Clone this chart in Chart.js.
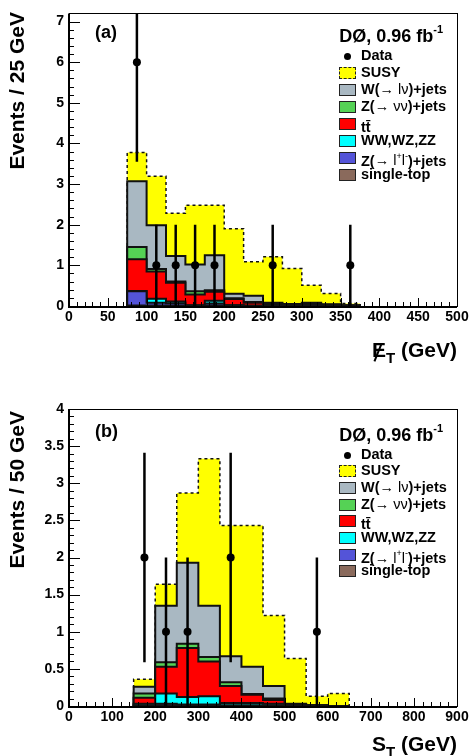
<!DOCTYPE html>
<html>
<head>
<meta charset="utf-8">
<script src="https://cdn.jsdelivr.net/npm/chart.js@4.4.0/dist/chart.umd.min.js"></script>
<style>
  body { margin: 0; background: #fff; }
  #page { position: relative; width: 472px; height: 756px; overflow: hidden;
          font-family: "Liberation Sans", Arial, sans-serif; font-weight: bold; color: #000; }
  .panel { position: absolute; left: 0; width: 472px; height: 378px; }
  .panel canvas { position: absolute; left: 0; top: 0; }
  .txt { position: absolute; white-space: nowrap; }
  .ytitle { font-size: 21px; line-height: 24px; width: 200px; text-align: right; transform-origin: 0 0; left: 0; top: 0; }
  .xtitle { font-size: 21px; line-height: 24px; right: 15px; }
  .tag { font-size: 18px; line-height: 20px; left: 95px; }
  .lumi { font-size: 18px; line-height: 20px; right: 29px; }
  .lumi sup { font-size: 11px; position: relative; top: -2px; }
  .sym { font-weight: normal; }
  .met { position: relative; display: inline-block; }
  .met .sl { position: absolute; left: 5px; top: 5px; width: 2px; height: 19px; background: #000; transform: rotate(22deg); }
  .sub { font-size: 15px; position: relative; top: 6px; }
  .leg { position: absolute; left: 339px; height: 17px; font-size: 14.5px; line-height: 17px; white-space: nowrap; }
  .leg .sw { position: absolute; left: 0; top: 2px; width: 15px; height: 10px; border: 1.5px solid #222; }
  .leg .dot { position: absolute; left: 5px; top: 5px; width: 7px; height: 7px; border-radius: 50%; background: #000; }
  .leg .lab { position: absolute; left: 22px; top: -1px; }
  .leg sup { font-size: 9px; position: relative; top: -1px; }
</style>
</head>
<body>
<div id="page">
  <div class="panel" id="panelA" style="top:0">
    <canvas id="chartA" width="472" height="378"></canvas>
  </div>
  <div class="panel" id="panelB" style="top:378px">
    <canvas id="chartB" width="472" height="378"></canvas>
  </div>
</div>
<script>
// ---- panel (a): missing ET, 25 GeV bins ----
const binEdgesA = [75, 100, 125, 150, 175, 200, 225, 250, 275, 300, 325, 350, 375];
const singleTopA = [0.01, 0.01, 0.01, 0.00, 0.01, 0.01, 0.00, 0.00, 0.00, 0.00, 0.00, 0.00];
const zllA       = [0.35, 0.07, 0.06, 0.01, 0.05, 0.00, 0.00, 0.00, 0.00, 0.00, 0.00, 0.00];
const dibosonA   = [0.01, 0.10, 0.04, 0.01, 0.07, 0.01, 0.01, 0.01, 0.00, 0.00, 0.00, 0.00];
const ttbarA     = [0.78, 0.67, 0.46, 0.26, 0.22, 0.15, 0.07, 0.04, 0.03, 0.03, 0.02, 0.01];
const znnA       = [0.30, 0.06, 0.03, 0.08, 0.04, 0.02, 0.02, 0.01, 0.01, 0.02, 0.01, 0.00];
const wjetsA     = [1.62, 1.08, 0.63, 0.66, 0.86, 0.11, 0.15, 0.02, 0.01, 0.03, 0.01, 0.01];
const susyA      = [0.71, 1.20, 1.05, 1.46, 1.23, 1.60, 0.84, 1.13, 0.87, 0.43, 0.27, 0.04];
const dataXA   = [87.5, 112.5, 137.5, 162.5, 187.5, 262.5, 362.5];
const dataYA   = [6, 1, 1, 1, 1, 1, 1];
const dataErrA = [2.45, 1, 1, 1, 1, 1, 1];
const xTicksA = [0, 50, 100, 150, 200, 250, 300, 350, 400, 450, 500];
const yTicksA = [0, 1, 2, 3, 4, 5, 6, 7];

// ---- panel (b): ST, 50 GeV bins ----
const binEdgesB = [150, 200, 250, 300, 350, 400, 450, 500, 550, 600, 650];
const singleTopB = [0.00, 0.01, 0.01, 0.01, 0.00, 0.00, 0.00, 0.00, 0.00, 0.00];
const zllB       = [0.01, 0.02, 0.01, 0.01, 0.01, 0.01, 0.01, 0.00, 0.00, 0.00];
const dibosonB   = [0.02, 0.14, 0.10, 0.11, 0.03, 0.03, 0.02, 0.01, 0.00, 0.00];
const ttbarB     = [0.08, 0.36, 0.66, 0.47, 0.23, 0.11, 0.05, 0.01, 0.01, 0.00];
const znnB       = [0.06, 0.06, 0.06, 0.06, 0.05, 0.01, 0.02, 0.00, 0.00, 0.00];
const wjetsB     = [0.09, 0.76, 1.09, 0.69, 0.35, 0.37, 0.17, 0.01, 0.00, 0.00];
const susyB      = [0.10, 0.29, 0.94, 1.98, 1.76, 1.90, 0.95, 0.61, 0.12, 0.17];
const dataXB   = [175, 225, 275, 375, 575];
const dataYB   = [2, 1, 1, 2, 1];
const dataErrB = [1.41, 1, 1, 1.41, 1];
const xTicksB = [0, 100, 200, 300, 400, 500, 600, 700, 800, 900];
const yTicksB = [0, 0.5, 1, 1.5, 2, 2.5, 3, 3.5, 4];

// stack order, bottom to top
const seriesNames = ['single-top', 'Z(\u2192 l+l-)+jets', 'WW,WZ,ZZ', 't\u0074\u0304', 'Z(\u2192 \u03bd\u03bd)+jets', 'W(\u2192 l\u03bd)+jets', 'SUSY'];
const seriesColors = ['#8a6a5c', '#5454d8', '#00ffff', '#ff0000', '#55d255', '#a9b8c2', '#ffff00'];
// legend labels (display order: top of stack first)
const legendHtml = {
  'Data': 'Data',
  'SUSY': 'SUSY',
  'W(\u2192 l\u03bd)+jets': 'W(<span class="sym">\u2192 l\u03bd</span>)+jets',
  'Z(\u2192 \u03bd\u03bd)+jets': 'Z(<span class="sym">\u2192 \u03bd\u03bd</span>)+jets',
  't\u0074\u0304': '<span style="position:relative;top:4px">t\u0074\u0304</span>',
  'WW,WZ,ZZ': 'WW,WZ,ZZ',
  'Z(\u2192 l+l-)+jets': 'Z(<span class="sym">\u2192 l<sup>+</sup>l<sup>-</sup></span>)+jets',
  'single-top': 'single-top'
};

Chart.defaults.font.family = '"Liberation Sans", Arial, sans-serif';
Chart.defaults.font.weight = 'bold';
Chart.defaults.font.size = 14;
Chart.defaults.color = '#000';

function stepPoints(edges, vals) {
  const pts = [{ x: edges[0], y: 0 }];
  vals.forEach((v, i) => pts.push({ x: edges[i], y: v }));
  pts.push({ x: edges[edges.length - 1], y: 0 });
  return pts;
}

// frame + inward major/minor ticks, like ROOT
const rootAxes = {
  id: 'rootAxes',
  afterDatasetsDraw(chart, args, opts) {
    const { ctx, chartArea: a, scales } = chart;
    ctx.save();
    ctx.strokeStyle = '#000';
    ctx.lineWidth = 1;
    const ticks = (scale, nMinor, horiz, majLen, minLen) => {
      const vals = scale.ticks.map(t => t.value);
      const step = vals[1] - vals[0];
      const n = Math.round((scale.max - scale.min) / (step / nMinor));
      for (let i = 0; i <= n; i++) {
        const v = scale.min + i * step / nMinor;
        if (v > scale.max + 1e-9) break;
        const len = (i % nMinor === 0) ? majLen : minLen;
        const p = Math.round(scale.getPixelForValue(v)) + 0.5;
        ctx.beginPath();
        if (horiz) { ctx.moveTo(p, a.bottom); ctx.lineTo(p, a.bottom - len); }
        else { ctx.moveTo(a.left, p); ctx.lineTo(a.left + len, p); }
        ctx.stroke();
      }
    };
    ticks(scales.x, opts.xMinor, true, 8, 4);
    ticks(scales.y, opts.yMinor, false, 11, 5);
    ctx.strokeRect(Math.round(a.left) + 0.5, Math.round(a.top) + 0.5, Math.round(a.width), Math.round(a.height));
    ctx.lineWidth = 2;
    ctx.beginPath();
    ctx.moveTo(a.left, a.top); ctx.lineTo(a.left, a.bottom + 1); ctx.lineTo(a.right, a.bottom + 1);
    ctx.stroke();
    ctx.restore();
  }
};

function buildPanel(canvasId, p) {
  const comps = [p.st, p.zll, p.vv, p.tt, p.znn, p.w, p.susy];
  const datasets = [];
  let cum = p.st.map(() => 0);
  comps.forEach((vals, k) => {
    cum = cum.map((c, i) => c + vals[i]);
    datasets.push({
      label: seriesNames[k],
      data: stepPoints(p.edges, cum),
      stepped: true,
      fill: 'origin',
      backgroundColor: seriesColors[k],
      borderColor: '#111',
      borderWidth: k === 6 ? 1.5 : 2,
      borderDash: k === 6 ? [3, 3] : [],
      pointRadius: 0,
      order: 2 + k
    });
  });
  const errPts = [];
  p.dataX.forEach((x, i) => {
    errPts.push({ x: x, y: p.dataY[i] - p.dataErr[i] });
    errPts.push({ x: x, y: p.dataY[i] + p.dataErr[i] });
    errPts.push({ x: x, y: null });
  });
  datasets.push({
    label: 'err', data: errPts, borderColor: '#000', borderWidth: 2.5,
    pointRadius: 0, spanGaps: false, fill: false, order: 1
  });
  datasets.push({
    label: 'Data', data: p.dataX.map((x, i) => ({ x: x, y: p.dataY[i] })),
    showLine: false, pointRadius: 4, pointBackgroundColor: '#000', pointBorderWidth: 0, order: 0
  });

  return new Chart(document.getElementById(canvasId), {
    type: 'line',
    data: { datasets },
    options: {
      responsive: false,
      animation: false,
      events: [],
      layout: { padding: { top: p.top, right: 15, left: 0, bottom: 0 } },
      plugins: {
        legend: { display: false },
        tooltip: { enabled: false },
        rootAxes: { xMinor: 5, yMinor: 5 }
      },
      scales: {
        x: {
          type: 'linear', min: p.xTicks[0], max: p.xTicks[p.xTicks.length - 1],
          grid: { display: false, drawTicks: false }, border: { display: false },
          ticks: { padding: 3, maxRotation: 0, autoSkip: false, callback: v => String(v) },
          afterBuildTicks: s => { s.ticks = p.xTicks.map(v => ({ value: v })); },
          afterFit: s => { s.height = p.xAxisH; }
        },
        y: {
          type: 'linear', min: 0, max: p.yMax,
          grid: { display: false, drawTicks: false }, border: { display: false },
          ticks: { padding: 5, autoSkip: false, callback: v => String(v) },
          afterBuildTicks: s => { s.ticks = p.yTicks.map(v => ({ value: v })); },
          afterFit: s => { s.width = 69; }
        }
      }
    },
    plugins: [rootAxes]
  });
}

function addOverlay(panelId, o) {
  const panel = document.getElementById(panelId);
  const add = (cls, html, style) => {
    const d = document.createElement('div');
    d.className = cls; d.innerHTML = html; d.setAttribute('style', style);
    panel.appendChild(d);
    return d;
  };
  add('txt ytitle', o.ytitle, `transform: translate(5px, ${o.plotTop + 2 + 200}px) rotate(-90deg);`);
  add('txt xtitle', o.xtitle, `top:${o.xtitleTop}px;`);
  add('txt tag', o.tag, `top:${o.plotTop + 12}px;`);
  add('txt lumi', 'D\u00d8, 0.96 fb<sup>-1</sup>', `top:${o.plotTop + 11}px;`);
  const order = ['Data', 'SUSY', seriesNames[5], seriesNames[4], seriesNames[3], seriesNames[2], seriesNames[1], seriesNames[0]];
  order.forEach((name, i) => {
    const top = o.plotTop + 46 + i * o.rowH - 8.5;
    let mark;
    if (name === 'Data') mark = '<div class="dot"></div>';
    else {
      const k = seriesNames.indexOf(name);
      const dash = name === 'SUSY' ? 'border-style:dashed;' : '';
      mark = `<div class="sw" style="background:${seriesColors[k]};${dash}"></div>`;
    }
    add('leg', mark + `<div class="lab">${legendHtml[name]}</div>`, `top:${top}px;`);
  });
}

buildPanel('chartA', {
  edges: binEdgesA, st: singleTopA, zll: zllA, vv: dibosonA, tt: ttbarA, znn: znnA, w: wjetsA, susy: susyA,
  dataX: dataXA, dataY: dataYA, dataErr: dataErrA, xTicks: xTicksA, yTicks: yTicksA,
  yMax: 7.2, top: 10, xAxisH: 72
});
buildPanel('chartB', {
  edges: binEdgesB, st: singleTopB, zll: zllB, vv: dibosonB, tt: ttbarB, znn: znnB, w: wjetsB, susy: susyB,
  dataX: dataXB, dataY: dataYB, dataErr: dataErrB, xTicks: xTicksB, yTicks: yTicksB,
  yMax: 4, top: 31, xAxisH: 50
});

addOverlay('panelA', {
  plotTop: 10, rowH: 17, tag: '(a)', ytitle: 'Events / 25 GeV',
  xtitle: '<span class="met">E<span class="sl"></span></span><span class="sub">T</span> (GeV)', xtitleTop: 338
});
addOverlay('panelB', {
  plotTop: 31, rowH: 16.7, tag: '(b)', ytitle: 'Events / 50 GeV',
  xtitle: 'S<span class="sub">T</span> (GeV)', xtitleTop: 354
});
</script>
</body>
</html>
